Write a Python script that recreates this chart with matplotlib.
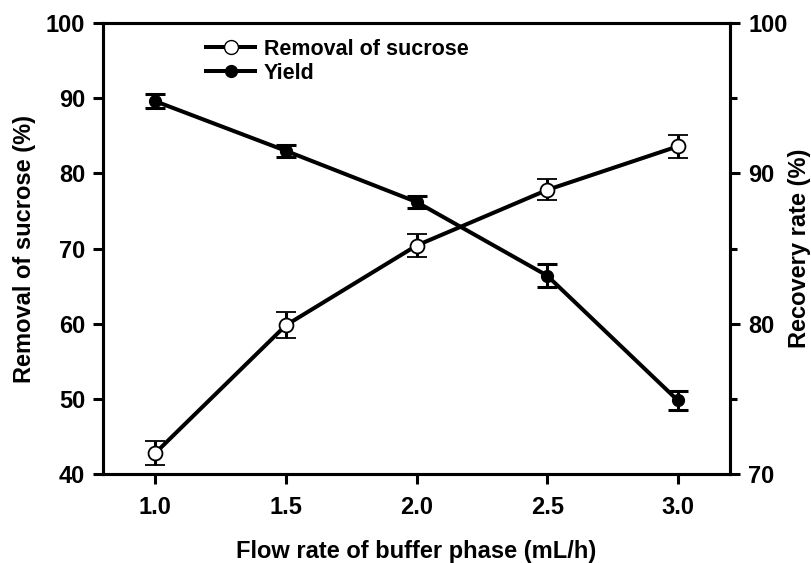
import numpy as np
import matplotlib.pyplot as plt
from matplotlib.lines import Line2D

# flow rate of buffer phase (mL/h)
flow_rate = [1.0, 1.5, 2.0, 2.5, 3.0]

# removal of sucrose (%) - left axis
removal = [42.8, 59.8, 70.4, 77.8, 83.6]
removal_err = [1.6, 1.7, 1.5, 1.4, 1.5]

# yield / recovery rate (%) - right axis
recovery = [94.8, 91.5, 88.1, 83.2, 74.9]
recovery_err = [0.45, 0.4, 0.4, 0.75, 0.65]

plt.rcParams['font.family'] = 'Liberation Sans'
plt.rcParams['font.weight'] = 'bold'

fig, ax = plt.subplots(figsize=(8.12, 5.63), dpi=100)
fig.subplots_adjust(left=0.127, right=0.899, top=0.959, bottom=0.158)
ax2 = ax.twinx()

ax.errorbar(flow_rate, removal, yerr=removal_err, color='black', lw=2.9,
            marker='o', markersize=10, markerfacecolor='white',
            markeredgecolor='black', markeredgewidth=1.3,
            capsize=7.5, capthick=2.2, elinewidth=2.2, zorder=3)
ax2.errorbar(flow_rate, recovery, yerr=recovery_err, color='black', lw=2.9,
             marker='o', markersize=8.5, markerfacecolor='black',
             markeredgecolor='black', capsize=7.5, capthick=2.2,
             elinewidth=2.2, zorder=3)

ax.set_xlim(0.8, 3.2)
ax.set_ylim(40, 100)
ax2.set_ylim(70, 100)
ax.set_xticks(flow_rate)
ax.set_xticklabels(['%.1f' % v for v in flow_rate])
ax.set_yticks(np.arange(40, 101, 10))
ax2.set_yticks([70, 80, 90, 100])
ax2.set_yticks([75, 85, 95], minor=True)

for a in (ax, ax2):
    for s in a.spines.values():
        s.set_linewidth(2.2)
    a.tick_params(axis='both', which='major', direction='out', length=7, width=2.2,
                  labelsize=17, pad=6)
    a.tick_params(axis='y', which='minor', direction='out', length=5, width=2.2)
ax.tick_params(axis='x', pad=9)

ax.set_xlabel('Flow rate of buffer phase (mL/h)', fontsize=17, fontweight='bold', va='center')
ax.xaxis.set_label_coords(0.5, -0.171)
ax.set_ylabel('Removal of sucrose (%)', fontsize=17, fontweight='bold', va='center')
ax.yaxis.set_label_coords(-0.126, 0.5)
ax2.set_ylabel('Recovery rate (%)', fontsize=17, fontweight='bold', va='center')
ax2.yaxis.set_label_coords(1.111, 0.5)

handles = [Line2D([], [], color='black', lw=2.9, marker='o', markersize=10,
                  markerfacecolor='white', markeredgecolor='black'),
           Line2D([], [], color='black', lw=2.9, marker='o', markersize=8.5,
                  markerfacecolor='black')]
ax.legend(handles, ['Removal of sucrose', 'Yield'], loc='upper left',
          bbox_to_anchor=(0.14, 0.999), frameon=False, fontsize=15.5,
          handlelength=2.3, handletextpad=0.4, labelspacing=0.15, borderaxespad=0.3)

plt.savefig('out.png', dpi=100)
